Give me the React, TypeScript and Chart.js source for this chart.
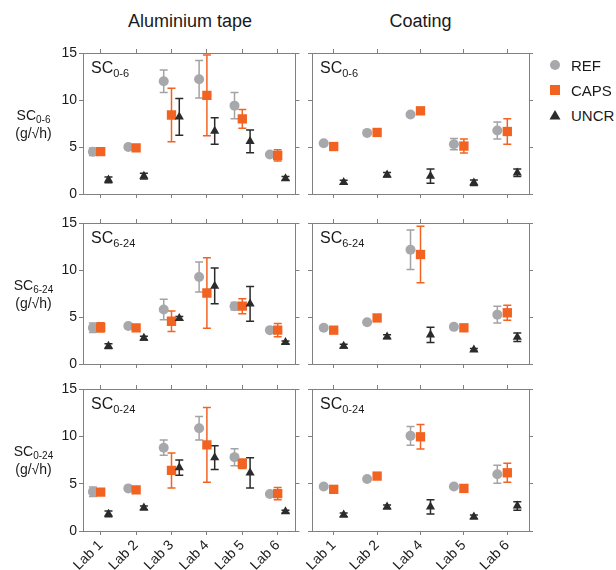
import React, { useEffect, useRef } from "react";
import { Chart, registerables } from "chart.js";

Chart.register(...registerables);

const FONT = '"Liberation Sans", Arial, Helvetica, sans-serif';

// ---------- categories / ticks ----------
const tapeLabs = ["Lab 1", "Lab 2", "Lab 3", "Lab 4", "Lab 5", "Lab 6"];
const coatLabs = ["Lab 1", "Lab 2", "Lab 4", "Lab 5", "Lab 6"];
const yMin = 0;
const yMax = 15;
const yStep = 5;
const seriesNames = ["REF", "CAPS", "UNCR"];
const columnTitles = ["Aluminium tape", "Coating"];
const rowSubs = ["0-6", "6-24", "0-24"];

// ---------- Aluminium tape, SC0-6 ----------
const tape06Ref = [4.5, 5.0, 12.0, 12.2, 9.4, 4.2];
const tape06RefErr = [0.4, 0.15, 1.2, 2.0, 1.4, 0.15];
const tape06Caps = [4.5, 4.9, 8.4, 10.5, 8.0, 4.1];
const tape06CapsErr = [0.2, 0.15, 2.85, 4.3, 1.0, 0.6];
const tape06Uncr = [1.5, 1.9, 8.2, 6.7, 5.6, 1.65];
const tape06UncrErr = [0.3, 0.3, 1.95, 1.4, 1.2, 0.2];

// ---------- Coating, SC0-6 ----------
const coat06Ref = [5.4, 6.5, 8.45, 5.3, 6.75];
const coat06RefErr = [0.15, 0.15, 0.2, 0.6, 0.9];
const coat06Caps = [5.05, 6.55, 8.85, 5.1, 6.65];
const coat06CapsErr = [0.15, 0.2, 0.3, 0.75, 1.35];
const coat06Uncr = [1.25, 2.05, 1.9, 1.2, 2.25];
const coat06UncrErr = [0.2, 0.25, 0.75, 0.3, 0.4];

// ---------- Aluminium tape, SC6-24 ----------
const tape624Ref = [3.85, 4.05, 5.8, 9.25, 6.15, 3.6];
const tape624RefErr = [0.5, 0.15, 1.1, 1.6, 0.4, 0.15];
const tape624Caps = [3.9, 3.85, 4.55, 7.55, 6.15, 3.6];
const tape624CapsErr = [0.5, 0.15, 1.1, 3.75, 0.8, 0.7];
const tape624Uncr = [1.9, 2.75, 4.85, 8.3, 6.4, 2.3];
const tape624UncrErr = [0.25, 0.2, 0.2, 1.9, 1.85, 0.15];

// ---------- Coating, SC6-24 ----------
const coat624Ref = [3.85, 4.45, 12.15, 3.95, 5.25];
const coat624RefErr = [0.1, 0.1, 2.1, 0.1, 0.9];
const coat624Caps = [3.6, 4.9, 11.65, 3.85, 5.45];
const coat624CapsErr = [0.1, 0.1, 3.0, 0.1, 0.8];
const coat624Uncr = [1.9, 2.9, 3.1, 1.5, 2.85];
const coat624UncrErr = [0.2, 0.2, 0.8, 0.15, 0.45];

// ---------- Aluminium tape, SC0-24 ----------
const tape024Ref = [4.15, 4.5, 8.8, 10.85, 7.8, 3.9];
const tape024RefErr = [0.5, 0.1, 0.8, 1.25, 0.9, 0.1];
const tape024Caps = [4.1, 4.35, 6.4, 9.1, 7.1, 3.95];
const tape024CapsErr = [0.3, 0.1, 1.85, 3.95, 0.5, 0.65];
const tape024Uncr = [1.8, 2.45, 6.7, 7.75, 6.15, 2.05];
const tape024UncrErr = [0.3, 0.2, 0.8, 1.25, 1.6, 0.15];

// ---------- Coating, SC0-24 ----------
const coat024Ref = [4.7, 5.5, 10.05, 4.7, 6.0];
const coat024RefErr = [0.1, 0.1, 1.0, 0.15, 0.95];
const coat024Caps = [4.4, 5.8, 9.95, 4.5, 6.15];
const coat024CapsErr = [0.1, 0.1, 1.3, 0.1, 1.0];
const coat024Uncr = [1.7, 2.55, 2.55, 1.5, 2.65];
const coat024UncrErr = [0.2, 0.2, 0.75, 0.2, 0.45];

// ---------- styles ----------
const COLORS = ["#a7a8ab", "#f26322", "#2b2b2b"];
const ERR_COLORS = ["#a3a3a6", "#f26322", "#2b2b2b"];
const POINT_STYLES = ["circle", "rect", "triangle"];
const POINT_RADII = [5, 6.6, 5.3];
const FRAME = "#808080";

const COLS = [
  { x: 38, w: 264, L: 45, R: 5, labs: tapeLabs, offset: 0.22, showY: true },
  { x: 302, w: 238, L: 10, R: 11, labs: coatLabs, offset: 0.23, showY: false },
];
const ROWS = [
  { y: 45, h: 157, T: 8, B: 8, showX: false },
  { y: 215, h: 157, T: 8, B: 8, showX: false },
  { y: 381, h: 189, T: 8, B: 39, showX: true },
];

const PANEL_DATA = [
  [
    [tape06Ref, tape06RefErr, tape06Caps, tape06CapsErr, tape06Uncr, tape06UncrErr],
    [coat06Ref, coat06RefErr, coat06Caps, coat06CapsErr, coat06Uncr, coat06UncrErr],
  ],
  [
    [tape624Ref, tape624RefErr, tape624Caps, tape624CapsErr, tape624Uncr, tape624UncrErr],
    [coat624Ref, coat624RefErr, coat624Caps, coat624CapsErr, coat624Uncr, coat624UncrErr],
  ],
  [
    [tape024Ref, tape024RefErr, tape024Caps, tape024CapsErr, tape024Uncr, tape024UncrErr],
    [coat024Ref, coat024RefErr, coat024Caps, coat024CapsErr, coat024Uncr, coat024UncrErr],
  ],
];

const errorBarPlugin = {
  id: "errorBars",
  beforeDatasetsDraw(chart: any) {
    const ctx = chart.ctx;
    const ys = chart.scales.y;
    chart.data.datasets.forEach((ds: any, di: number) => {
      const errs = ds.errors;
      if (!errs) return;
      const meta = chart.getDatasetMeta(di);
      ctx.save();
      ctx.strokeStyle = ds.errorColor;
      ctx.lineWidth = 1.5;
      meta.data.forEach((pt: any, i: number) => {
        const v = ds.data[i].y;
        const e = errs[i];
        const x = pt.x;
        const top = ys.getPixelForValue(v + e);
        const bot = ys.getPixelForValue(v - e);
        ctx.beginPath();
        ctx.moveTo(x, top);
        ctx.lineTo(x, bot);
        ctx.moveTo(x - 4, top);
        ctx.lineTo(x + 4, top);
        ctx.moveTo(x - 4, bot);
        ctx.lineTo(x + 4, bot);
        ctx.stroke();
      });
      ctx.restore();
    });
  },
};

function Panel({ row, col }: { row: number; col: number }) {
  const ref = useRef<HTMLCanvasElement>(null);
  const c = COLS[col];
  const r = ROWS[row];
  useEffect(() => {
    const arrs = PANEL_DATA[row][col];
    const labs = c.labs;
    const offsets = [-c.offset, 0, c.offset];
    const datasets = seriesNames.map((name, k) => ({
      label: name,
      data: arrs[k * 2].map((v: number, i: number) => ({ x: i + offsets[k], y: v })),
      errors: arrs[k * 2 + 1],
      errorColor: ERR_COLORS[k],
      backgroundColor: COLORS[k],
      borderColor: COLORS[k],
      pointStyle: POINT_STYLES[k],
      pointRadius: POINT_RADII[k],
      pointHoverRadius: POINT_RADII[k],
      pointBorderWidth: 0,
      showLine: false,
      order: 3 - k,
    }));
    const setTicks = (s: any) => {
      s.ticks = labs.map((_: string, i: number) => ({ value: i }));
    };
    const grid = {
      drawOnChartArea: false,
      drawTicks: true,
      tickLength: 4,
      color: FRAME,
      lineWidth: 1,
    };
    const border = { display: true, color: FRAME, width: 1 };
    const tickFont = { family: FONT, size: 14 };
    const chart = new Chart(ref.current as HTMLCanvasElement, {
      type: "scatter",
      data: { datasets: datasets as any },
      plugins: [errorBarPlugin],
      options: {
        responsive: false,
        animation: false,
        events: [],
        layout: { padding: 0 },
        plugins: { legend: { display: false }, tooltip: { enabled: false } },
        scales: {
          x: {
            type: "linear",
            position: "bottom",
            min: -0.5,
            max: labs.length - 0.5,
            afterBuildTicks: setTicks,
            afterFit: (s: any) => {
              s.height = r.B;
              s.paddingLeft = 0;
              s.paddingRight = 0;
            },
            grid,
            border,
            ticks: {
              display: r.showX,
              autoSkip: false,
              minRotation: 45,
              maxRotation: 45,
              padding: 2,
              color: "#1a1a1a",
              font: tickFont,
              callback: (v: any) => labs[v] ?? "",
            },
          },
          x2: {
            type: "linear",
            position: "top",
            min: -0.5,
            max: labs.length - 0.5,
            afterBuildTicks: setTicks,
            afterFit: (s: any) => {
              s.height = r.T;
              s.paddingLeft = 0;
              s.paddingRight = 0;
            },
            grid,
            border,
            ticks: { display: false },
          },
          y: {
            type: "linear",
            position: "left",
            min: yMin,
            max: yMax,
            afterFit: (s: any) => {
              s.width = c.L;
              s.paddingTop = 0;
              s.paddingBottom = 0;
            },
            grid,
            border,
            ticks: {
              display: c.showY,
              stepSize: yStep,
              padding: 2,
              color: "#1a1a1a",
              font: tickFont,
            },
          },
          y2: {
            type: "linear",
            position: "right",
            min: yMin,
            max: yMax,
            afterFit: (s: any) => {
              s.width = c.R;
              s.paddingTop = 0;
              s.paddingBottom = 0;
            },
            grid,
            border,
            ticks: { display: false, stepSize: yStep },
          },
        },
      } as any,
    });
    return () => chart.destroy();
  }, []);
  return (
    <canvas
      ref={ref}
      width={c.w}
      height={r.h}
      style={{ position: "absolute", left: c.x, top: r.y, width: c.w, height: r.h }}
    />
  );
}

function Sub({ text, size }: { text: string; size: number }) {
  return (
    <span style={{ fontSize: size, position: "relative", top: size * 0.38 }}>{text}</span>
  );
}

function LegendItem({ k, cy }: { k: number; cy: number }) {
  let shape;
  if (k === 0) shape = <circle cx={6} cy={6} r={5} fill={COLORS[0]} />;
  else if (k === 1) shape = <rect x={1} y={1} width={10} height={10} fill={COLORS[1]} />;
  else shape = <polygon points="6,1 11.5,10.5 0.5,10.5" fill={COLORS[2]} />;
  return (
    <>
      <svg
        width={12}
        height={12}
        style={{ position: "absolute", left: 549, top: cy - 6 }}
      >
        {shape}
      </svg>
      <div
        style={{
          position: "absolute",
          left: 571,
          top: cy - 7.5,
          fontSize: 15,
          lineHeight: "15px",
          whiteSpace: "nowrap",
          color: "#1a1a1a",
        }}
      >
        {seriesNames[k]}
      </div>
    </>
  );
}

export default function App() {
  const plotTops = ROWS.map((r) => r.y + r.T);
  const plotLefts = COLS.map((c) => c.x + c.L);
  const plotCenters = COLS.map((c) => c.x + c.L + (c.w - c.L - c.R) / 2);
  return (
    <div
      style={{
        position: "absolute",
        left: 0,
        top: 0,
        width: 616,
        height: 570,
        overflow: "hidden",
        background: "#ffffff",
        fontFamily: FONT,
        color: "#1a1a1a",
      }}
    >
      {columnTitles.map((t, i) => (
        <div
          key={t}
          style={{
            position: "absolute",
            left: plotCenters[i] - 100,
            width: 200,
            top: 12,
            textAlign: "center",
            fontSize: 18,
            lineHeight: "18px",
          }}
        >
          {t}
        </div>
      ))}
      {ROWS.map((_, ri) =>
        COLS.map((__, ci) => <Panel key={ri + "-" + ci} row={ri} col={ci} />)
      )}
      {ROWS.map((_, ri) =>
        COLS.map((__, ci) => (
          <div
            key={"in" + ri + "-" + ci}
            style={{
              position: "absolute",
              left: plotLefts[ci] + 8,
              top: plotTops[ri] + 7,
              fontSize: 16,
              lineHeight: "16px",
              whiteSpace: "nowrap",
            }}
          >
            SC
            <Sub text={rowSubs[ri]} size={11} />
          </div>
        ))
      )}
      {ROWS.map((_, ri) => (
        <div
          key={"yl" + ri}
          style={{
            position: "absolute",
            left: 0,
            width: 67,
            top: plotTops[ri] + 53.5,
            textAlign: "center",
            fontSize: 14,
            lineHeight: "16px",
            whiteSpace: "nowrap",
          }}
        >
          <div>
            SC
            <Sub text={rowSubs[ri]} size={10} />
          </div>
          <div>(g/√h)</div>
        </div>
      ))}
      {seriesNames.map((_, k) => (
        <LegendItem key={k} k={k} cy={65 + k * 25} />
      ))}
    </div>
  );
}
